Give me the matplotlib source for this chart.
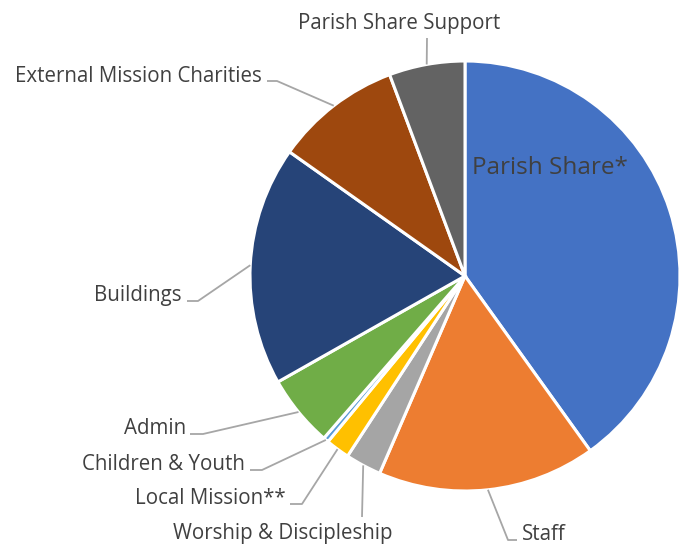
import numpy as np
import matplotlib
matplotlib.use('Agg')
import matplotlib.pyplot as plt

# pie data, clockwise from 12 o'clock
categories = ['Parish Share*', 'Staff', 'Worship & Discipleship', 'Local Mission**',
              'Children & Youth', 'Admin', 'Buildings', 'External Mission Charities',
              'Parish Share Support']
values = [40.1, 16.4, 2.7, 1.8, 0.4, 5.4, 18.0, 9.5, 5.7]
colors = ['#4472C4', '#ED7D31', '#A5A5A5', '#FFC000', '#5B9BD5',
          '#70AD47', '#264478', '#9E480E', '#636363']

W, H = 680, 544
plt.rcParams['font.family'] = ['Open Sans', 'DejaVu Sans']
TXT = '#404040'
LINE = '#A6A6A6'

fig = plt.figure(figsize=(W / 100, H / 100), dpi=100)
ax = fig.add_axes([0, 0, 1, 1])

cx, cy, r = 465, 276, 215   # image pixel coords
wedges, _ = ax.pie(values, colors=colors, startangle=90, counterclock=False,
                   center=(cx, H - cy), radius=r,
                   wedgeprops=dict(edgecolor='white', linewidth=2.2))
ax.set_xlim(0, W)
ax.set_ylim(0, H)
ax.set_aspect('equal')
ax.axis('off')

# label layout: (elbow, end, text xy, ha) in image pixels
layout = {
    'Staff': ((508, 540), (517, 540), (522, 534), 'left'),
    'Worship & Discipleship': ((362, 517), (362, 517), (283, 534), 'center'),
    'Local Mission**': ((302, 504), (290, 504), (286, 498), 'right'),
    'Children & Youth': ((262, 470), (250, 470), (245, 464), 'right'),
    'Admin': ((203, 434), (190, 434), (186, 429), 'right'),
    'Buildings': ((198, 301), (187, 301), (182, 296), 'right'),
    'External Mission Charities': ((277, 81), (267, 81), (262, 77), 'right'),
    'Parish Share Support': ((427, 38), (427, 38), (399, 24), 'center'),
}

for w, name in zip(wedges, categories):
    if name not in layout:
        continue
    mid = np.deg2rad((w.theta1 + w.theta2) / 2)
    sx = cx + r * np.cos(mid)
    sy = (H - cy) + r * np.sin(mid)
    (ex, ey), (fx, fy), (tx, ty), ha = layout[name]
    ax.plot([sx, ex, fx], [sy, H - ey, H - fy], color=LINE, lw=1.3,
            solid_capstyle='butt')
    ax.text(tx, H - ty, name, ha=ha, va='center', fontsize=14.8, color=TXT)

ax.text(550, H - 168, 'Parish Share*', ha='center', va='center',
        fontsize=17.5, color=TXT)

fig.savefig('out.png', dpi=100)
